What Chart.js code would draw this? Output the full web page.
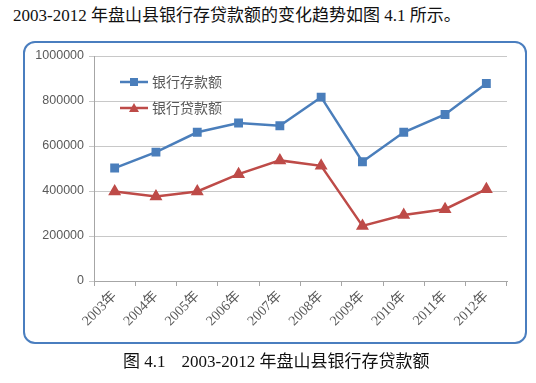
<!DOCTYPE html>
<html><head><meta charset="utf-8">
<script src="https://cdn.jsdelivr.net/npm/chart.js@4"></script>
<style>
html,body{margin:0;padding:0;background:#fff;width:536px;height:383px;overflow:hidden;position:relative;}
.t{position:absolute;font-size:17px;line-height:20px;font-family:"Liberation Serif","Noto Sans CJK SC",serif;color:#111;white-space:nowrap;}
#head{left:13px;top:6px;}
#cap{left:123px;top:352px;}
#cap span{margin-left:16px;}
#box{position:absolute;left:23px;top:41px;width:500px;height:299px;border:2px solid #4a7ebf;border-radius:12px;}
#c{position:absolute;left:0;top:0;}
</style></head>
<body>
<div id="head" class="t">2003-2012 年盘山县银行存贷款额的变化趋势如图 4.1 所示。</div>
<div id="box"></div>
<canvas id="c" width="536" height="383"></canvas>
<div id="cap" class="t">图 4.1<span>2003-2012 年盘山县银行存贷款额</span></div>
<script>
const years = ['2003年','2004年','2005年','2006年','2007年','2008年','2009年','2010年','2011年','2012年'];
const deposits = [502000, 573000, 661000, 702000, 690000, 817000, 530000, 661000, 740000, 878000];
const loans = [398000, 376000, 398000, 475000, 536000, 512000, 245000, 293000, 319000, 408000];
const seriesNames = ['银行存款额','银行贷款额'];
const yTicks = [0, 200000, 400000, 600000, 800000, 1000000];

const legendPlugin = {
  id:'innerLegend',
  afterDraw(chart){
    const ctx = chart.ctx, a = chart.chartArea;
    chart.data.datasets.forEach((ds,i)=>{
      const y = a.top + 26 + i*26;
      const x0 = a.left + 26, x1 = a.left + 54;
      ctx.save();
      ctx.strokeStyle = ds.borderColor; ctx.lineWidth = 2.5;
      ctx.beginPath(); ctx.moveTo(x0,y); ctx.lineTo(x1,y); ctx.stroke();
      ctx.fillStyle = ds.pointBackgroundColor;
      const cx=(x0+x1)/2;
      if(ds.pointStyle==='rect'){ ctx.fillRect(cx-4,y-4,8,8); }
      else { ctx.beginPath(); ctx.moveTo(cx,y-5); ctx.lineTo(cx+5,y+4); ctx.lineTo(cx-5,y+4); ctx.closePath(); ctx.fill(); }
      ctx.fillStyle = '#595959';
      ctx.font = '14px "Noto Sans CJK SC", sans-serif';
      ctx.textBaseline = 'middle';
      ctx.fillText(ds.label, x1+4, y);
      ctx.restore();
    });
  }
};

new Chart(document.getElementById('c'), {
  type:'line',
  data:{
    labels: years,
    datasets:[
      {label:seriesNames[0], data:deposits, borderColor:'#4a7ebb', backgroundColor:'#4a7ebb', pointBackgroundColor:'#4a7ebb', pointBorderColor:'#4a7ebb', pointStyle:'rect', pointRadius:4.5, borderWidth:2.5, tension:0},
      {label:seriesNames[1], data:loans, borderColor:'#be4b48', backgroundColor:'#be4b48', pointBackgroundColor:'#be4b48', pointBorderColor:'#be4b48', pointStyle:'triangle', pointRadius:5, borderWidth:2.5, tension:0}
    ]
  },
  options:{
    responsive:false, animation:false,
    layout:{autoPadding:false, padding:{left:34, top:56, right:29, bottom:42}},
    plugins:{legend:{display:false}, tooltip:{enabled:false}},
    scales:{
      x:{
        offset:true,
        afterFit(s){ s.height = 60; },
        grid:{display:true, offset:true, drawOnChartArea:false, drawTicks:true, tickLength:5, color:'#a6a6a6'},
        border:{display:true, color:'#a6a6a6', width:1},
        ticks:{minRotation:45, maxRotation:45, padding:2, color:'#595959', font:{size:14, family:'"Liberation Serif","Noto Sans CJK SC",serif'}}
      },
      y:{
        min:0, max:1000000,
        afterFit(s){ s.width = 60; },
        afterBuildTicks(s){ s.ticks = yTicks.map(v=>({value:v})); },
        grid:{color:'#c8c8c8', tickLength:5, lineWidth:1},
        border:{display:true, color:'#a6a6a6', width:1},
        ticks:{padding:5, color:'#595959', font:{size:12.5, family:'"Liberation Sans", Arial, sans-serif'}, callback:v=>String(v)}
      }
    }
  },
  plugins:[legendPlugin]
});
</script>
</body></html>
